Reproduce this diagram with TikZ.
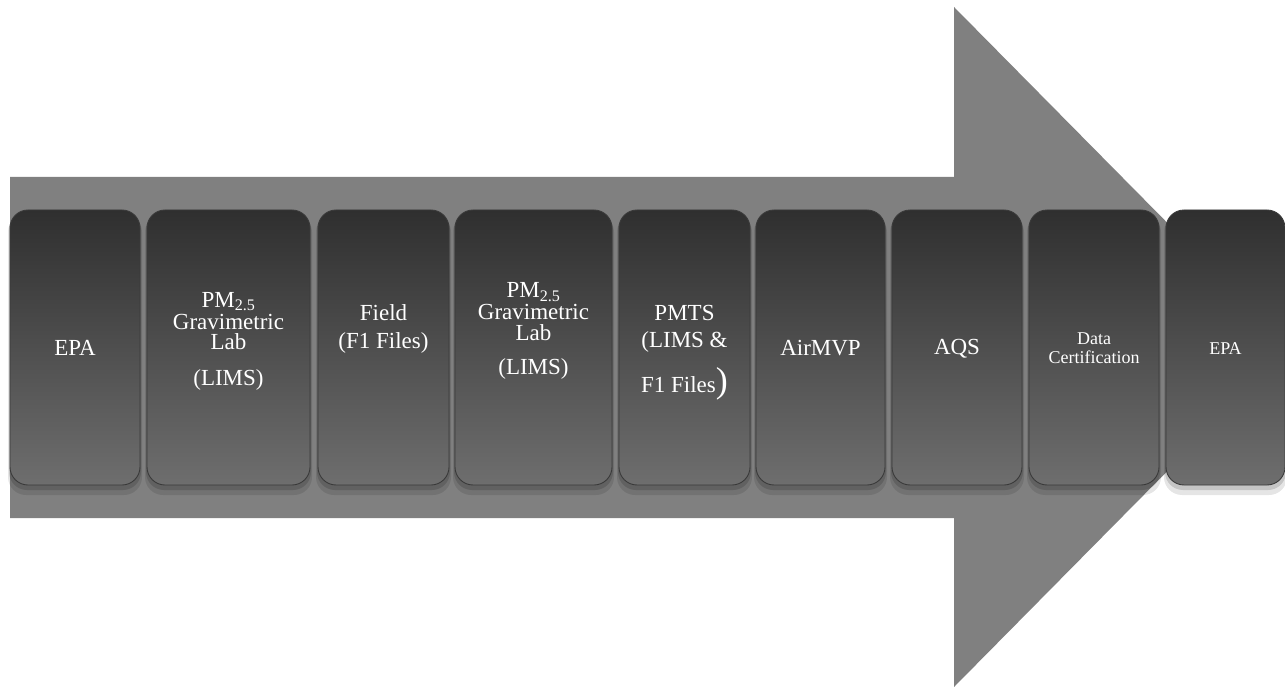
\documentclass[tikz,border=0pt]{standalone}
\usepackage{fontspec}
\setmainfont{Liberation Serif}
\newfontfamily\timesfont{Liberation Serif}
\definecolor{arrowgray}{HTML}{808080}
\definecolor{boxtop}{HTML}{2F2F2F}
\definecolor{boxmid}{HTML}{3E3E3E}
\definecolor{boxbot}{HTML}{6E6E6E}
\definecolor{boxedge}{HTML}{3A3A3A}
\tikzset{
  stagebox/.style={rounded corners=18pt, draw=boxedge, line width=0.9pt,
    top color=boxtop, middle color=boxmid, bottom color=boxbot,
    minimum height=275pt, inner sep=0pt},
  stageshadow/.style={fill=black, rounded corners=18pt},
  stagetext/.style={text=white, align=center, inner sep=0pt,
    font=\timesfont\fontsize{23}{20.5}\selectfont},
  smalltext/.style={text=white, align=center, inner sep=0pt,
    font=\timesfont\fontsize{18}{19}\selectfont},
}
\begin{document}
\begin{tikzpicture}[x=1pt,y=-1pt]
\useasboundingbox (0,0) rectangle (1285,687);
\begin{scope}
\clip (0,0) rectangle (1285,687);
% big arrow
\fill[arrowgray] (10,177) -- (954,177) -- (954,7) -- (1290,347) -- (954,687)
  -- (954,518) -- (10,518) -- cycle;
% shadows
\foreach \l/\r in {10/140,147/310,318/449,455/612,619/750,756/885,892/1022,1029/1159,1166/1285}{
  \fill[stageshadow, opacity=0.10] (\l-2,214) rectangle (\r+2,495);
  \fill[stageshadow, opacity=0.14] (\l-1,212) rectangle (\r+1,490);
}
% boxes
\foreach \n/\l/\r in {b1/10/140,b2/147/310,b3/318/449,b4/455/612,b5/619/750,b6/756/885,b7/892/1022,b8/1029/1159,b9/1166/1285}{
  \node[stagebox, minimum width={(\r-\l)*1pt}] (\n) at ({(\l+\r)/2},347.5) {};
}
\end{scope}
% texts
\node[stagetext] (t1) at (b1.center |- 0,348) {EPA};
\node[stagetext] (t2) at (b2.center |- 0,341) {PM\textsubscript{2.5}\\[1.5pt]Gravimetric\\Lab\\[15pt](LIMS)};
\node[stagetext] (t3) at (b3.center |- 0,329) {Field\\[8pt](F1 Files)};
\node[stagetext] (t4) at (b4.center |- 0,331) {PM\textsubscript{2.5}\\[1.5pt]Gravimetric\\Lab\\[14pt](LIMS)};
\node[stagetext] (t5) at (b5.center |- 0,349) {PMTS\\[6.5pt](LIMS \&\\[23pt]F1 Files\smash{\fontsize{36}{36}\selectfont)}};
\node[stagetext] (t6) at (b6.center |- 0,348) {AirMVP};
\node[stagetext] (t7) at (b7.center |- 0,349) {AQS};
\node[smalltext] (t8) at (b8.center |- 0,348) {Data\\Certification};
\node[smalltext] (t9) at (b9.center |- 0,349) {EPA};
\end{tikzpicture}
\end{document}
